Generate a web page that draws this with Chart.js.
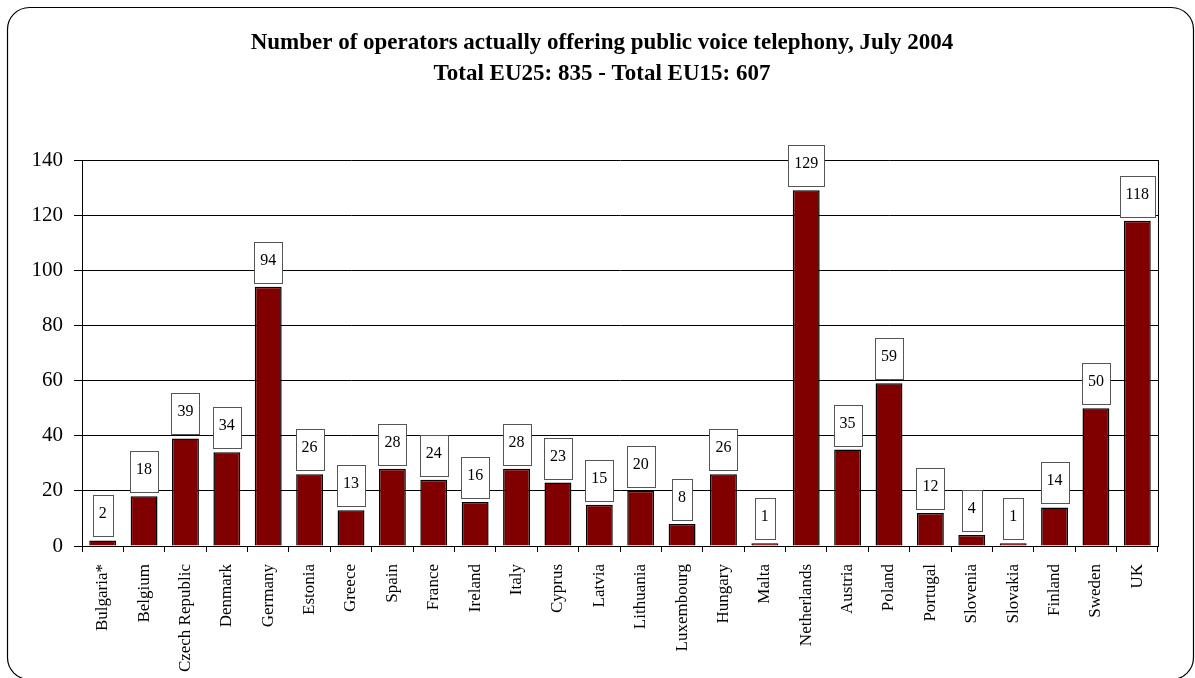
<!DOCTYPE html>
<html>
<head>
<meta charset="utf-8">
<script src="https://cdn.jsdelivr.net/npm/chart.js@4"></script>
<style>
  html, body { margin: 0; padding: 0; background: #fff; }
  #wrap { width: 1195px; height: 678px; }
</style>
</head>
<body>
<div id="wrap"><canvas id="chart" width="1195" height="678"></canvas></div>
<script>
const countries = ['Bulgaria*', 'Belgium', 'Czech Republic', 'Denmark', 'Germany', 'Estonia', 'Greece',
  'Spain', 'France', 'Ireland', 'Italy', 'Cyprus', 'Latvia', 'Lithuania', 'Luxembourg', 'Hungary',
  'Malta', 'Netherlands', 'Austria', 'Poland', 'Portugal', 'Slovenia', 'Slovakia', 'Finland', 'Sweden', 'UK'];
const operators = [2, 18, 39, 34, 94, 26, 13, 28, 24, 16, 28, 23, 15, 20, 8, 26, 1, 129, 35, 59, 12, 4, 1, 14, 50, 118];
const titleLines = ['Number of operators actually offering public voice telephony, July 2004',
  'Total EU25: 835 - Total EU15: 607'];

const SERIF = '"Liberation Serif", "Times New Roman", serif';

// frame, title, right border and value boxes
const decor = {
  id: 'decor',
  beforeDraw(chart) {
    const ctx = chart.ctx;
    ctx.save();
    ctx.strokeStyle = '#000';
    ctx.lineWidth = 1.2;
    ctx.beginPath();
    ctx.roundRect(7.5, 7.5, 1186, 672, 22);
    ctx.stroke();
    ctx.fillStyle = '#000';
    ctx.font = 'bold 23px ' + SERIF;
    ctx.textAlign = 'center';
    ctx.textBaseline = 'middle';
    ctx.fillText(titleLines[0], 602, 43);
    ctx.fillText(titleLines[1], 602, 74);
    ctx.restore();
  },
  afterDatasetsDraw(chart) {
    const ctx = chart.ctx;
    const area = chart.chartArea;
    ctx.save();
    ctx.strokeStyle = '#000';
    ctx.lineWidth = 1;
    ctx.beginPath();
    ctx.moveTo(Math.round(area.right) + 0.5, area.top);
    ctx.lineTo(Math.round(area.right) + 0.5, area.bottom);
    ctx.stroke();

    ctx.font = '16px ' + SERIF;
    ctx.textAlign = 'center';
    ctx.textBaseline = 'middle';
    const meta = chart.getDatasetMeta(0);
    meta.data.forEach((bar, i) => {
      const txt = String(operators[i]);
      const w = Math.round(ctx.measureText(txt).width) + 12;
      const h = 41;
      const x = Math.round(bar.x - w / 2) + 0.5;
      const y = Math.round(bar.y - 4 - h) + 0.5;
      ctx.fillStyle = '#fff';
      ctx.fillRect(x, y, w, h);
      ctx.strokeStyle = '#555';
      ctx.strokeRect(x, y, w, h);
      ctx.fillStyle = '#000';
      ctx.fillText(txt, bar.x, y + 18);
    });
    ctx.restore();
  }
};

new Chart(document.getElementById('chart'), {
  type: 'bar',
  data: {
    labels: countries,
    datasets: [{
      data: operators,
      backgroundColor: '#800000',
      borderColor: '#000',
      borderWidth: 1.5,
      barPercentage: 0.65,
      categoryPercentage: 1,
    }]
  },
  options: {
    responsive: false,
    animation: false,
    layout: { padding: { top: 160, left: 0, right: 37, bottom: 0 } },
    plugins: {
      legend: { display: false },
      title: { display: false },
      tooltip: { enabled: false },
    },
    scales: {
      y: {
        min: 0,
        max: 140,
        afterFit: s => { s.width = 82; },
        ticks: { stepSize: 20, color: '#000', font: { family: SERIF, size: 21 }, padding: 11 },
        grid: { color: '#000', lineWidth: 1, tickLength: 8 },
        border: { color: '#000', width: 1 },
      },
      x: {
        afterFit: s => { s.height = 132; },
        ticks: { color: '#000', font: { family: SERIF, size: 17 }, minRotation: 90, maxRotation: 90, padding: 12, autoSkip: false },
        grid: { drawOnChartArea: false, drawTicks: true, tickLength: 6, color: '#000', offset: true },
        border: { color: '#000', width: 1 },
      }
    }
  },
  plugins: [decor]
});
</script>
</body>
</html>
